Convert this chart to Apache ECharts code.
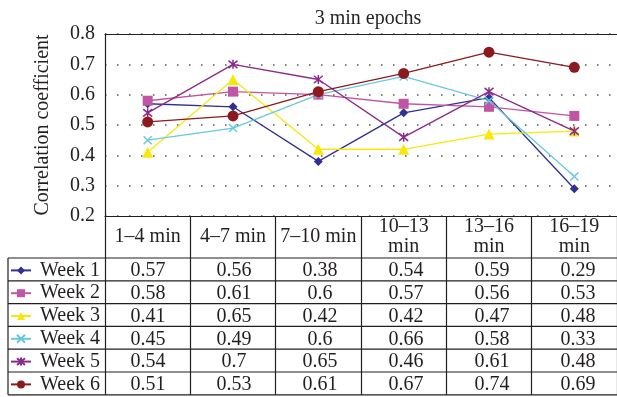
<!DOCTYPE html>
<html>
<head>
<meta charset="utf-8">
<script src="https://cdn.jsdelivr.net/npm/echarts@6/dist/echarts.min.js"></script>
<style>
  html, body { margin: 0; padding: 0; background: #fff; }
  #main { width: 617px; height: 397px; }
</style>
</head>
<body>
<div id="main"></div>
<script>
// data
var categories = ['1–4 min', '4–7 min', '7–10 min', '10–13\nmin', '13–16\nmin', '16–19\nmin'];
var seriesNames = ['Week 1', 'Week 2', 'Week 3', 'Week 4', 'Week 5', 'Week 6'];
var week1 = [0.57, 0.56, 0.38, 0.54, 0.59, 0.29];
var week2 = [0.58, 0.61, 0.6, 0.57, 0.56, 0.53];
var week3 = [0.41, 0.65, 0.42, 0.42, 0.47, 0.48];
var week4 = [0.45, 0.49, 0.6, 0.66, 0.58, 0.33];
var week5 = [0.54, 0.7, 0.65, 0.46, 0.61, 0.48];
var week6 = [0.51, 0.53, 0.61, 0.67, 0.74, 0.69];
var yTicks = [0.2, 0.3, 0.4, 0.5, 0.6, 0.7, 0.8];

var allWeeks = [week1, week2, week3, week4, week5, week6];
var colors = ['#2e3192', '#c055a5', '#f7e80a', '#68c9dc', '#8a2b8c', '#8b1a1e'];
var xPath = 'path://M0,0L10,10M10,0L0,10';
var starPath = 'path://M0,0L10,10M10,0L0,10M5,-1L5,11';
var symbols = ['diamond', 'rect', 'triangle', xPath, starPath, 'circle'];
var symSizes = [9, 10, 11, 8, 9, 11];

// layout
var font = 'Liberation Serif';
var fs = 20;
var gridLeft = 105, gridTop = 34, gridW = 516, gridH = 182;
var headerBottom = 258, rowH = 22.8, tableLeft = 8;
var colW = gridW / categories.length;
var tableBottom = headerBottom + rowH * seriesNames.length;

var chart = echarts.init(document.getElementById('main'), null, { renderer: 'canvas' });

var series = seriesNames.map(function (name, i) {
  return {
    name: name,
    type: 'line',
    data: allWeeks[i],
    symbol: symbols[i],
    symbolSize: symSizes[i],
    showAllSymbol: true,
    lineStyle: { color: colors[i], width: 1.3 },
    itemStyle: { color: colors[i], borderColor: colors[i], borderWidth: (i == 3 || i == 4) ? 1.5 : 0 },
    emphasis: { disabled: true },
    z: 3
  };
});

// table lines + cell text
var graphics = [];
for (var r = 0; r <= seriesNames.length; r++) {
  var yy = headerBottom + rowH * r;
  graphics.push({
    type: 'line',
    shape: { x1: tableLeft, y1: yy, x2: gridLeft + gridW, y2: yy },
    style: { stroke: '#231f20', lineWidth: 1.2 }
  });
}
graphics.push({
  type: 'line',
  shape: { x1: tableLeft, y1: headerBottom, x2: tableLeft, y2: tableBottom },
  style: { stroke: '#231f20', lineWidth: 1.2 }
});
allWeeks.forEach(function (arr, i) {
  arr.forEach(function (v, j) {
    graphics.push({
      type: 'text',
      x: gridLeft + colW * (j + 0.5),
      y: headerBottom + rowH * (i + 0.5) + 1.5,
      style: {
        text: String(v),
        fontFamily: font,
        fontSize: fs,
        fill: '#231f20',
        align: 'center',
        verticalAlign: 'middle'
      }
    });
  });
});

var option = {
  backgroundColor: '#fff',
  animation: false,
  textStyle: { fontFamily: font },
  title: {
    text: '3 min epochs',
    left: gridLeft + gridW / 2,
    textAlign: 'center',
    top: 4,
    textStyle: { fontFamily: font, fontSize: fs, fontWeight: 'normal', color: '#231f20' }
  },
  legend: {
    orient: 'vertical',
    left: 10,
    top: headerBottom + 1,
    padding: 0,
    itemGap: 0,
    itemWidth: 20,
    itemHeight: 10,
    data: seriesNames,
    textStyle: { fontFamily: font, fontSize: fs, color: '#231f20', lineHeight: rowH, padding: [0, 0, 0, 4] }
  },
  grid: { left: gridLeft, top: gridTop, width: gridW, height: gridH },
  xAxis: [{
    type: 'category',
    data: categories,
    boundaryGap: true,
    axisLine: { lineStyle: { color: '#231f20', width: 1.2 } },
    axisTick: { show: true, length: tableBottom - (gridTop + gridH), lineStyle: { color: '#231f20', width: 1.2 } },
    axisLabel: {
      fontFamily: font, fontSize: fs, color: '#231f20',
      margin: 21, verticalAlign: 'middle', lineHeight: 20, interval: 0
    }
  }, {
    type: 'category',
    data: categories,
    position: 'top',
    axisLine: { lineStyle: { color: '#231f20', width: 1.2 } },
    axisTick: { show: false },
    axisLabel: { show: false }
  }],
  yAxis: {
    type: 'value',
    min: yTicks[0],
    max: yTicks[yTicks.length - 1],
    interval: 0.1,
    name: 'Correlation coefficient',
    nameLocation: 'middle',
    nameRotate: 90,
    nameGap: 52,
    nameTextStyle: { fontFamily: font, fontSize: fs, color: '#231f20' },
    axisLine: { show: true, lineStyle: { color: '#231f20', width: 1.2 } },
    axisTick: { show: false },
    axisLabel: {
      fontFamily: font, fontSize: fs, color: '#231f20', margin: 10,
      formatter: function (v) { return v.toFixed(1); }
    },
    splitLine: { show: true, lineStyle: { color: '#555', width: 1.5, type: [1.5, 10.5] } }
  },
  graphic: graphics,
  series: series
};

chart.setOption(option);
</script>
</body>
</html>
